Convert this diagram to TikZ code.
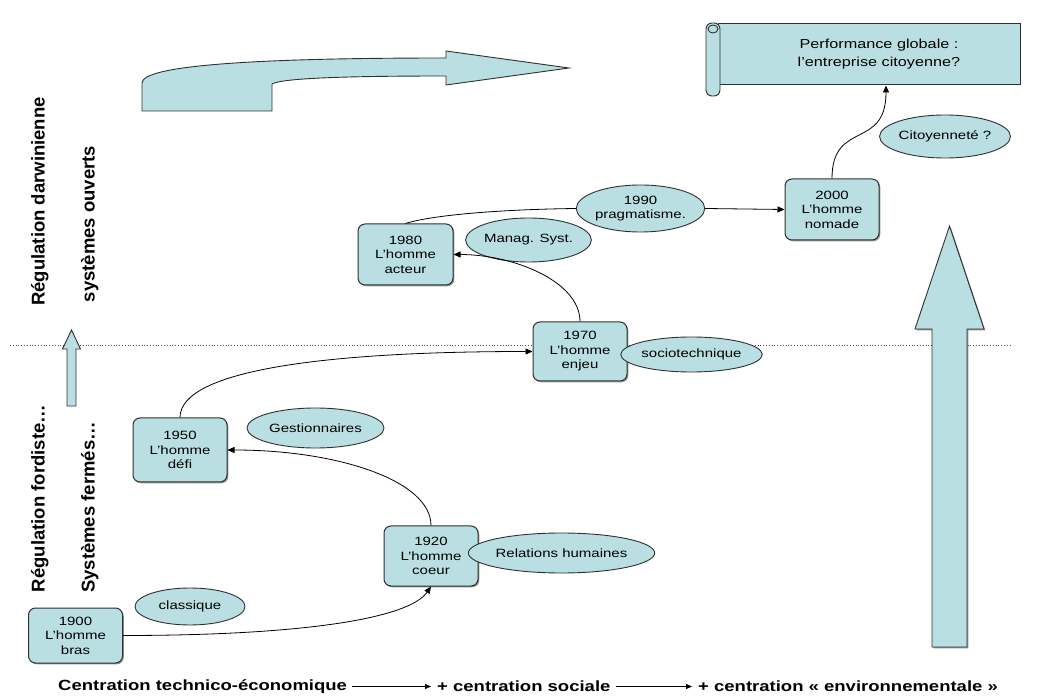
\documentclass[tikz,border=0pt]{standalone}
\usepackage{fontspec}
\setmainfont{Liberation Sans}[FakeStretch=1.25]
\newfontfamily\rotfont{Liberation Sans}
\usetikzlibrary{shapes.geometric,arrows.meta,calc,shadows}
\definecolor{pfill}{HTML}{B9DFE3}
\definecolor{pline}{HTML}{303030}
\begin{document}
\begin{tikzpicture}[x=1pt,y=1pt,
  box/.style={draw=pline, fill=pfill, rounded corners=7pt, line width=1pt, align=center,
    inner sep=0pt, minimum width=94pt, font=\fontsize{12}{14.5}\selectfont,
    drop shadow={shadow xshift=1.3pt,shadow yshift=-1.3pt,fill=black!70,opacity=0.6}},
  oval/.style={ellipse, draw=pline, fill=pfill, line width=0.9pt, inner sep=0pt, align=center,
    font=\fontsize{12}{14.5}\selectfont},
  conn/.style={draw=black, line width=0.8pt},
  arr/.style={conn, -{Triangle[length=7pt,width=6pt]}},
  lab/.style={font=\rotfont\bfseries\fontsize{18.5}{22}\selectfont, rotate=90, anchor=base, inner sep=0pt},
  bot/.style={font=\bfseries\fontsize{14.8}{17}\selectfont, anchor=west, inner sep=0pt},
  big/.style={draw=pline, fill=pfill, line width=0.9pt, line join=miter}
]
\useasboundingbox (0,0) rectangle (1053,697);

% dotted separation line
\draw[black!70, line width=0.8pt, dotted] (10,352) -- (1010,352);

% big curved arrow (top)
\path[big] (142,586) -- (272,586) -- (272,613)
  .. controls (282,619) and (350,621) .. (446,621) -- (446,612) -- (569,629) -- (446,646) -- (446,639)
  .. controls (260,639) and (142,632) .. (142,614) -- cycle;

% small up arrow (left)
\path[big] (67,291) -- (76,291) -- (76,348) -- (80.5,348) -- (71.5,367) -- (62.5,348) -- (67,348) -- cycle;

% big up arrow (right)
\path[big, drop shadow={shadow xshift=1.3pt,shadow yshift=-1.3pt,fill=black!70,opacity=0.6}]
  (932,50) -- (967,50) -- (967,368) -- (984,368) -- (949.5,471) -- (915,368) -- (932,368) -- cycle;

% banner (scroll)
\node[draw=pline, fill=pfill, line width=1pt, minimum width=302pt, minimum height=61pt, inner sep=0pt,
  align=center, font=\fontsize{13}{18}\selectfont] (ban) at (869,642.5)
  {\hspace*{20pt}Performance globale :\\\hspace*{20pt}l’entreprise citoyenne?};
\path[big, rounded corners=6pt] (706,601) rectangle (720,674);
\draw[pline, line width=0.9pt, fill=pfill] (713,668) ellipse (5 and 4);

% boxes
\node[box, minimum height=55pt] (b1900) at (75.5,61.5) {1900\\L’homme\\bras};
\node[box, minimum height=60pt] (b1920) at (431,141) {1920\\L’homme\\coeur};
\node[box, minimum height=64pt] (b1950) at (180,247) {1950\\L’homme\\défi};
\node[box, minimum height=59pt] (b1970) at (580,345.5) {1970\\L’homme\\enjeu};
\node[box, minimum height=61pt, minimum width=95pt] (b1980) at (405.5,442.5) {1980\\L’homme\\acteur};
\node[box, minimum height=61pt] (b2000) at (832,487.5) {2000\\L’homme\\nomade};

% ellipses
\node[oval, minimum width=110pt, minimum height=37pt] (ecla) at (190,90.5) {classique};
\node[oval, minimum width=149pt, minimum height=40pt] (erel) at (561.5,144) {Relations humaines};
\node[oval, minimum width=137pt, minimum height=40pt] (eges) at (315.5,269) {Gestionnaires};
\node[oval, minimum width=117pt, minimum height=35pt] (esoc) at (691.5,342.5) {sociotechnique};
\node[oval, minimum width=117pt, minimum height=44pt] (eman) at (528.5,457) {Manag. Syst.};
\node[oval, minimum width=113pt, minimum height=47pt] (e1990) at (640.5,488.5) {1990\\pragmatisme.};
\node[oval, minimum width=114pt, minimum height=43pt] (ecit) at (945,560.5) {Citoyenneté ?};

% connectors
\draw[arr] (b1900.east) .. controls +(180,0) and +(-22,-32) .. (b1920.south);
\draw[arr] (b1920.north) .. controls +(0,45) and +(110,0) .. (b1950.east);
\draw[arr] (b1950.north) .. controls +(0,48) and +(-203,0) .. (b1970.west);
\draw[arr] (b1970.north) .. controls +(0,40) and +(60,0) .. (b1980.east);
\draw[conn] (b1980.north) .. controls +(25,8) and +(-80,-1) .. (e1990.west);
\draw[arr] (e1990.east) -- (b2000.west);
\coordinate (banend) at ($(ban.south)+(17,0)$);
\draw[arr] (b2000.north) .. controls +(0,59) and +(0,-65) .. (banend);

% side labels
\node[lab] (l1) at (44.5,495.5) {Régulation darwinienne};
\node[lab] (l2) at (94.5,473) {systèmes ouverts};
\node[lab] (l3) at (44.5,198.5) {Régulation fordiste…};
\node[lab] (l4) at (94.5,189.5) {Systèmes fermés…};

% bottom line
\node[bot] (t1) at (58,10.5) {Centration technico-économique};
\node[bot] (t2) at (437,10.5) {+ centration sociale};
\node[bot] (t3) at (698,10.5) {+ centration « environnementale »};
\draw[conn, -{Triangle[length=6pt,width=5pt]}] ([xshift=5pt]t1.east) -- ([xshift=-6pt]t2.west);
\draw[conn, -{Triangle[length=6pt,width=5pt]}] ([xshift=5pt]t2.east) -- ([xshift=-6pt]t3.west);
\end{tikzpicture}
\end{document}
